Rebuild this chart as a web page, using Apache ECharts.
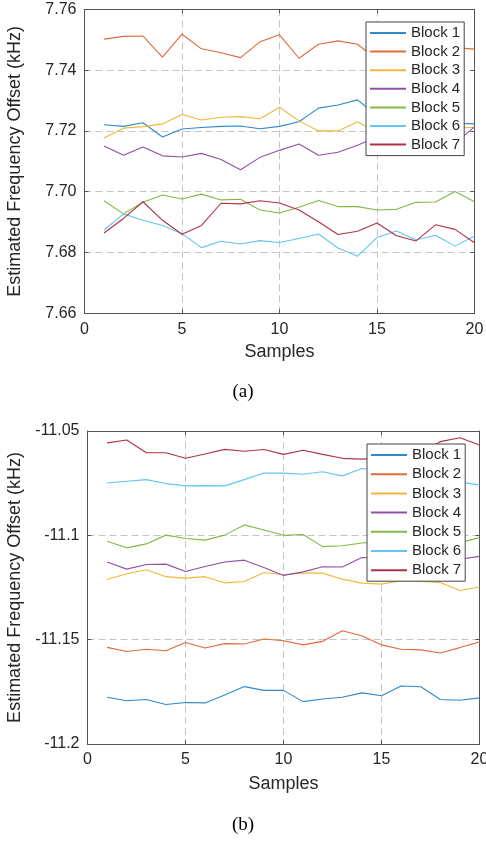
<!DOCTYPE html>
<html><head><meta charset="utf-8">
<script src="https://cdn.jsdelivr.net/npm/echarts@6/dist/echarts.min.js"></script>
<style>html,body{margin:0;padding:0;background:#fff}#c{width:486px;height:844px}</style>
</head><body><div id="c"></div>
<script>
const samples = [1,2,3,4,5,6,7,8,9,10,11,12,13,14,15,16,17,18,19,20];
const seriesNames = ['Block 1','Block 2','Block 3','Block 4','Block 5','Block 6','Block 7'];
const colors = ['#2f89cc','#e06a3a','#efb83a','#9150a6','#86b848','#62c6f0','#b03248'];

// (a)
const a_block1 = [7.7220,7.7215,7.7227,7.7180,7.7206,7.7211,7.7215,7.7216,7.7207,7.7215,7.7230,7.7275,7.7285,7.7302,7.7250,7.7235,7.7230,7.7228,7.7225,7.7223];
const a_block2 = [7.7502,7.7511,7.7512,7.7443,7.7518,7.7470,7.7457,7.7441,7.7493,7.7516,7.7439,7.7485,7.7496,7.7485,7.7435,7.7460,7.7475,7.7480,7.7474,7.7469];
const a_block3 = [7.7177,7.7209,7.7214,7.7223,7.7254,7.7236,7.7245,7.7247,7.7240,7.7278,7.7233,7.7200,7.7200,7.7230,7.7195,7.7205,7.7210,7.7205,7.7210,7.7211];
const a_block4 = [7.7150,7.7120,7.7147,7.7118,7.7114,7.7126,7.7106,7.7072,7.7113,7.7136,7.7157,7.7120,7.7130,7.7153,7.7180,7.7175,7.7170,7.7165,7.7160,7.7213];
const a_block5 = [7.6970,7.6927,7.6965,7.6989,7.6976,7.6992,7.6973,7.6975,7.6940,7.6930,7.6949,7.6971,7.6951,7.6951,7.6940,7.6942,7.6965,7.6966,7.7001,7.6967];
const a_block6 = [7.6874,7.6927,7.6906,7.6889,7.6862,7.6816,7.6837,7.6828,7.6839,7.6833,7.6846,7.6861,7.6815,7.6788,7.6849,7.6871,7.6841,7.6857,7.6821,7.6854];
const a_block7 = [7.6864,7.6912,7.6967,7.6906,7.6860,7.6889,7.6962,7.6960,7.6970,7.6963,7.6940,7.6901,7.6859,7.6870,7.6897,7.6855,7.6838,7.6891,7.6876,7.6832];

// (b)
const b_block1 = [-11.1776,-11.1793,-11.1787,-11.1811,-11.1801,-11.1803,-11.1765,-11.1725,-11.1743,-11.1743,-11.1797,-11.1784,-11.1776,-11.1755,-11.1769,-11.1722,-11.1726,-11.1787,-11.1790,-11.1779];
const b_block2 = [-11.1537,-11.1557,-11.1546,-11.1553,-11.1514,-11.1540,-11.1519,-11.1521,-11.1497,-11.1505,-11.1525,-11.1508,-11.1457,-11.1481,-11.1525,-11.1546,-11.1549,-11.1564,-11.1538,-11.1511];
const b_block3 = [-11.1212,-11.1184,-11.1165,-11.1198,-11.1205,-11.1198,-11.1228,-11.1221,-11.1178,-11.1189,-11.1181,-11.1181,-11.1210,-11.1229,-11.1234,-11.1218,-11.1221,-11.1226,-11.1264,-11.1248];
const b_block4 = [-11.1128,-11.1162,-11.1140,-11.1138,-11.1173,-11.1149,-11.1128,-11.1119,-11.1154,-11.1192,-11.1175,-11.1151,-11.1152,-11.1106,-11.1110,-11.1105,-11.1120,-11.1130,-11.1115,-11.1101];
const b_block5 = [-11.1028,-11.1060,-11.1041,-11.0999,-11.1015,-11.1023,-11.0999,-11.0950,-11.0974,-11.1000,-11.0996,-11.1054,-11.1050,-11.1037,-11.1030,-11.1020,-11.1015,-11.1020,-11.1035,-11.1011];
const b_block6 = [-11.0749,-11.0741,-11.0733,-11.0752,-11.0763,-11.0762,-11.0763,-11.0733,-11.0701,-11.0702,-11.0707,-11.0695,-11.0715,-11.0680,-11.0690,-11.0705,-11.0720,-11.0735,-11.0745,-11.0758];
const b_block7 = [-11.0557,-11.0543,-11.0604,-11.0604,-11.0631,-11.0610,-11.0588,-11.0597,-11.0589,-11.0612,-11.0592,-11.0612,-11.0631,-11.0635,-11.0630,-11.0625,-11.0600,-11.0551,-11.0532,-11.0567];

const xTicks = [0,5,10,15,20];
const aYTicks = ['7.66','7.68','7.70','7.72','7.74','7.76'];
const bYTicks = ['-11.2','-11.15','-11.1','-11.05'];
const yName = 'Estimated Frequency Offset (kHz)';
const xName = 'Samples';

const aSets = [a_block1,a_block2,a_block3,a_block4,a_block5,a_block6,a_block7];
const bSets = [b_block1,b_block2,b_block3,b_block4,b_block5,b_block6,b_block7];

const FONT = 'Liberation Sans, Arial, Helvetica, sans-serif';
const TXT = '#262626';
const AXC = '#555555';
const GRIDC = '#c4c4c4';

function xAxes(g, nameGap) {
  return [
    { gridIndex:g, type:'value', min:xTicks[0], max:xTicks[xTicks.length-1], interval:xTicks[1]-xTicks[0],
      name:xName, nameLocation:'middle', nameGap:nameGap,
      nameTextStyle:{fontSize:18, color:TXT, fontFamily:FONT},
      axisLine:{show:true, onZero:false, lineStyle:{color:AXC, width:1}},
      axisTick:{show:true, inside:true, length:4, lineStyle:{color:AXC}},
      axisLabel:{fontSize:16, color:TXT, fontFamily:FONT, margin:8, hideOverlap:false},
      splitLine:{show:true, showMinLine:false, showMaxLine:false, lineStyle:{type:[7,4], color:GRIDC, width:1}} },
    { gridIndex:g, type:'value', position:'top', min:xTicks[0], max:xTicks[xTicks.length-1], interval:xTicks[1]-xTicks[0],
      axisLine:{show:true, onZero:false, lineStyle:{color:AXC, width:1}},
      axisTick:{show:true, inside:true, length:4, lineStyle:{color:AXC}},
      axisLabel:{show:false}, splitLine:{show:false} }
  ];
}
function yAxes(g, ticks, nameGap) {
  const mn = parseFloat(ticks[0]), mx = parseFloat(ticks[ticks.length-1]);
  const iv = parseFloat(ticks[1]) - parseFloat(ticks[0]);
  const labelFor = v => {
    let best = ticks[0], d = Infinity;
    ticks.forEach(t => { const dd = Math.abs(parseFloat(t)-v); if (dd < d) { d = dd; best = t; } });
    return best;
  };
  return [
    { gridIndex:g, type:'value', min:mn, max:mx, interval:iv,
      name:yName, nameLocation:'middle', nameGap:nameGap, nameRotate:90,
      nameTextStyle:{fontSize:18, color:TXT, fontFamily:FONT},
      axisLine:{show:true, onZero:false, lineStyle:{color:AXC, width:1}},
      axisTick:{show:true, inside:true, length:4, lineStyle:{color:AXC}},
      axisLabel:{fontSize:16, color:TXT, fontFamily:FONT, margin:8, formatter:labelFor},
      splitLine:{show:true, showMinLine:false, showMaxLine:false, lineStyle:{type:[7,4], color:GRIDC, width:1}} },
    { gridIndex:g, type:'value', position:'right', min:mn, max:mx, interval:iv,
      axisLine:{show:true, onZero:false, lineStyle:{color:AXC, width:1}},
      axisTick:{show:true, inside:true, length:4, lineStyle:{color:AXC}},
      axisLabel:{show:false}, splitLine:{show:false} }
  ];
}

function mkSeries(sets, xi, yi) {
  return sets.map((arr, k) => ({
    name: seriesNames[k], type:'line', xAxisIndex:xi, yAxisIndex:yi,
    data: samples.map((s,i)=>[s, arr[i]]),
    showSymbol:false, symbol:'none', silent:true,
    lineStyle:{color:colors[k], width:1.1}, itemStyle:{color:colors[k]},
    z: 3
  }));
}

function legend(left, top, gap) {
  return { orient:'vertical', left:left, top:top, padding:[3,4,3,4], itemGap:gap,
    itemWidth:36, itemHeight:2, icon:'rect', selectedMode:false,
    backgroundColor:'#fff', borderColor:'#444', borderWidth:1, borderRadius:0,
    textStyle:{fontSize:15, color:TXT, fontFamily:FONT, lineHeight:16},
    data: seriesNames.slice(), z: 10 };
}

const chart = echarts.init(document.getElementById('c'), null, {renderer:'canvas'});
chart.setOption({
  animation:false,
  backgroundColor:'#fff',
  grid:[
    {left:84.5, top:9.3, width:390, height:304, show:false, containLabel:false, outerBoundsMode:'none'},
    {left:87.5, top:431, width:392, height:313, show:false, containLabel:false, outerBoundsMode:'none'}
  ],
  xAxis: xAxes(0, 30).concat(xAxes(1, 31)),
  yAxis: yAxes(0, aYTicks, 60).concat(yAxes(1, bYTicks, 63)),
  legend: [legend(366, 22, 2.6), legend(367, 444, 3.2)],
  series: mkSeries(aSets, 0, 0).concat(mkSeries(bSets, 2, 2)),
  graphic:[
    {type:'text', left:'center', top:383, style:{text:'(a)', fontSize:19, fontFamily:'Liberation Serif, Times New Roman, serif', fill:'#000'}},
    {type:'text', left:'center', top:816, style:{text:'(b)', fontSize:19, fontFamily:'Liberation Serif, Times New Roman, serif', fill:'#000'}}
  ]
});
</script>
</body></html>
